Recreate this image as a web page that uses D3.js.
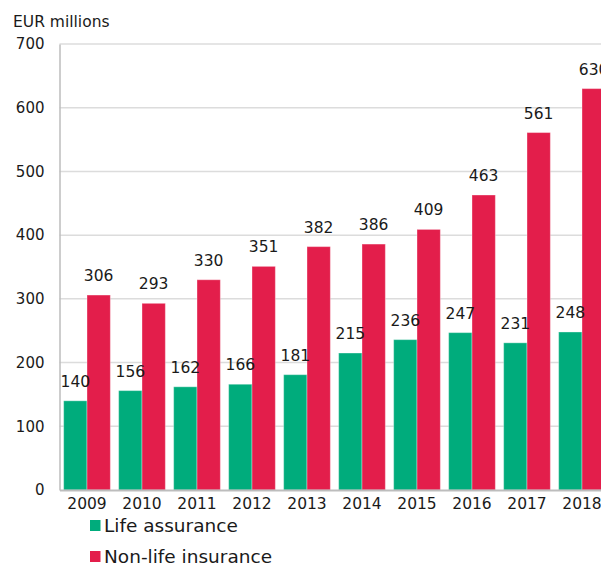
<!DOCTYPE html>
<html>
<head>
<meta charset="utf-8">
<script src="https://cdn.jsdelivr.net/npm/d3@7"></script>
<style>
  body { margin: 0; background: #fff; }
  text { font-family: "DejaVu Sans", Verdana, sans-serif; fill: #1a1a1a; }
</style>
</head>
<body>
<div id="chart_container"></div>
<script>
// Data
const years = ["2009", "2010", "2011", "2012", "2013", "2014", "2015", "2016", "2017", "2018"]
const seriesNames = ["Life assurance", "Non-life insurance"]
const lifeValues = [140, 156, 162, 166, 181, 215, 236, 247, 231, 248]
const nonLifeValues = [306, 293, 330, 351, 382, 386, 409, 463, 561, 630]
const yTicks = [0, 100, 200, 300, 400, 500, 600, 700]

const colors = ["#00ac7c", "#e31e4b"]

// Layout
const W = 601, H = 563
const plotLeft = 59.5
const plotTop = 44
const plotBottom = 490
const step = 55

const svg = d3.select("#chart_container").append("svg")
  .attr("width", W)
  .attr("height", H)

const table = years.map((yr, i) => ({ year: yr, values: [lifeValues[i], nonLifeValues[i]] }))

// Scales
const x0 = d3.scaleBand()
  .domain(years)
  .range([plotLeft, plotLeft + step * years.length])
  .paddingInner(0.151)
  .paddingOuter(0.0755)

const x1 = d3.scaleBand()
  .domain([0, 1])
  .range([0, x0.bandwidth()])

const y = d3.scaleLinear().domain([0, 700]).range([plotBottom, plotTop])

// gridlines
svg.append("g")
  .selectAll("line")
  .data(yTicks.slice(1))
  .join("line")
  .attr("x1", plotLeft)
  .attr("x2", W)
  .attr("y1", d => y(d))
  .attr("y2", d => y(d))
  .attr("stroke", "#dcdcdc")
  .attr("stroke-width", 1.5)

// y axis
svg.append("g")
  .attr("transform", `translate(${plotLeft}, 0)`)
  .style("font-size", "15px")
  .style("font-family", "DejaVu Sans, sans-serif")
  .call(d3.axisLeft(y).tickValues(yTicks).tickSize(0).tickPadding(15))
  .call(g => g.select(".domain").attr("stroke", "#bdbdbd").attr("stroke-width", 1.5))
  .selectAll(".tick text").attr("fill", "#1a1a1a")

// bars
const groups = svg.append("g")
  .selectAll("g")
  .data(table)
  .join("g")
  .attr("transform", d => `translate(${x0(d.year)}, 0)`)

groups.selectAll("rect")
  .data(d => d.values)
  .join("rect")
  .attr("x", (d, i) => x1(i))
  .attr("y", d => y(d))
  .attr("width", x1.bandwidth())
  .attr("height", d => plotBottom - y(d))
  .attr("fill", (d, i) => colors[i])
  .attr("stroke", "rgba(255,255,255,0.35)")
  .attr("stroke-width", 1)

groups.selectAll("text")
  .data(d => d.values)
  .join("text")
  .attr("x", (d, i) => x1(i) + x1.bandwidth() / 2)
  .attr("y", d => y(d) - 14)
  .attr("text-anchor", "middle")
  .style("font-size", "15.5px")
  .text(d => d)

// x axis
svg.append("g")
  .attr("transform", `translate(0, ${plotBottom})`)
  .style("font-size", "15.5px")
  .style("font-family", "DejaVu Sans, sans-serif")
  .call(d3.axisBottom(x0).tickSize(0).tickPadding(8))
  .call(g => g.select(".domain").attr("stroke", "#bdbdbd").attr("stroke-width", 2))
  .selectAll(".tick text").attr("fill", "#1a1a1a")

// unit label
svg.append("text")
  .attr("x", 13)
  .attr("y", 27)
  .style("font-size", "15.5px")
  .text("EUR millions")

// legend
const legend = svg.append("g")
  .selectAll("g")
  .data(seriesNames)
  .join("g")
  .attr("transform", (d, i) => `translate(90, ${520 + i * 31})`)

legend.append("rect")
  .attr("width", 10.5)
  .attr("height", 11)
  .attr("fill", (d, i) => colors[i])

legend.append("text")
  .attr("x", 14)
  .attr("y", 11.5)
  .style("font-size", "18.5px")
  .text(d => d)
</script>
</body>
</html>
